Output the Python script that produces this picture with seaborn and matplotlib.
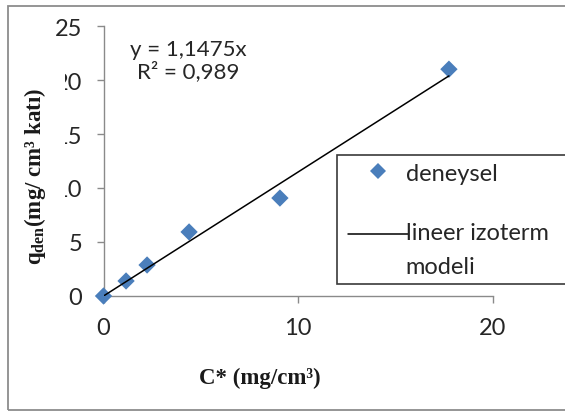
import numpy as np
import pandas as pd
import matplotlib
matplotlib.use("Agg")
import matplotlib.pyplot as plt
import seaborn as sns
from matplotlib.patches import Rectangle
from matplotlib.lines import Line2D
from matplotlib.legend_handler import HandlerLine2D

# ---- data ----
c_star = [0.0, 1.16, 2.24, 4.40, 9.07, 17.76]     # C* (mg/cm3)
q_den = [0.0, 1.39, 2.87, 5.93, 9.07, 21.0]       # q_den (mg/cm3 katı)
slope = 1.1475
r2 = "0,989"
x_ticks = [0, 10, 20]
y_ticks = [0, 5, 10, 15, 20, 25]
series_label = "deneysel"
model_label = "lineer izoterm\nmodeli"

sns.set_theme(style="white")
plt.rcParams["font.family"] = ["Lato", "DejaVu Sans"]
plt.rcParams["mathtext.fontset"] = "custom"
plt.rcParams["mathtext.rm"] = "Liberation Serif:bold"
plt.rcParams["mathtext.bf"] = "Liberation Serif:bold"
plt.rcParams["mathtext.it"] = "Liberation Serif:bold"

W, H = 565, 414
fig = plt.figure(figsize=(W / 100, H / 100), dpi=100)
fig.patch.set_facecolor("white")

x0, x1 = 103.5, 492.5
y0, y1 = 297, 27
ax = fig.add_axes([x0 / W, 1 - y0 / H, (x1 - x0) / W, (y0 - y1) / H])
ax.set_facecolor("white")

blue = "#4A7EBB"
df = pd.DataFrame({"C": c_star, "q": q_den})
sns.scatterplot(data=df, x="C", y="q", marker="D", s=78, color=blue,
                edgecolor="none", linewidth=0, ax=ax, zorder=3, legend=False,
                clip_on=False)

line_x = np.array([min(c_star), max(c_star)])
line_df = pd.DataFrame({"C": line_x, "q": slope * line_x})
sns.lineplot(data=line_df, x="C", y="q", color="black", linewidth=1.1,
             ax=ax, zorder=4, legend=False)

ax.set_xlim(0, 20)
ax.set_ylim(0, 25)
ax.set_xticks(x_ticks)
ax.set_yticks(y_ticks)
ax.set_xticklabels([str(v) for v in x_ticks])
ax.set_yticklabels([str(v) for v in y_ticks])

for s in ["top", "right"]:
    ax.spines[s].set_visible(False)
for s in ["left", "bottom"]:
    ax.spines[s].set_color("#8a8a8a")
    ax.spines[s].set_linewidth(1.0)

ax.tick_params(axis="both", which="both", direction="out", length=5,
               width=1.0, color="#8a8a8a", labelsize=17, labelcolor="#262626",
               left=True, bottom=True)
ax.tick_params(axis="x", pad=10)
ax.tick_params(axis="y", pad=10.5)

# axis labels
ax.set_xlabel("C* (mg/cm³)", fontfamily="Liberation Serif", fontweight="bold",
              fontsize=16.5, color="#1a1a1a")
ax.xaxis.set_label_coords((260 - x0) / (x1 - x0), (y0 - 378) / (y0 - y1))
ax.xaxis.label.set_va("center")

ax.set_ylabel(r"$\mathbf{q}_{\mathbf{den}}$(mg/ cm³ katı)", fontfamily="Liberation Serif",
              fontweight="bold", fontsize=16.5, color="#1a1a1a",
              bbox=dict(facecolor="white", edgecolor="none", pad=12.5))
ax.yaxis.set_label_coords((35 - x0) / (x1 - x0), (y0 - 177) / (y0 - y1))
ax.yaxis.label.set_va("center")

# equation text
fig.text(188 / W, 1 - 50 / H, f"y = {str(slope).replace('.', ',')}x", ha="center", va="center",
         fontsize=16, color="#262626")
fig.text(188 / W, 1 - 72 / H, f"R² = {r2}", ha="center", va="center",
         fontsize=16, color="#262626")


class ShiftedHandler(HandlerLine2D):
    """Line handle that starts a bit to the right and sits at the first text line."""
    def __init__(self, dx_left=0.0, dy=0.0, **kw):
        super().__init__(**kw)
        self.dx_left = dx_left
        self.dy = dy

    def create_artists(self, legend, orig_handle, xdescent, ydescent, width,
                       height, fontsize, trans):
        arts = super().create_artists(legend, orig_handle, xdescent, ydescent,
                                      width, height, fontsize, trans)
        for a in arts:
            xd = np.asarray(a.get_xdata(), dtype=float).copy()
            yd = np.asarray(a.get_ydata(), dtype=float).copy()
            if len(xd) == 2 and a.get_linestyle() not in ("None", "none", ""):
                xd[0] += self.dx_left
            else:
                xd = xd + self.dx_left / 2.0
            a.set_xdata(xd)
            a.set_ydata(yd + self.dy)
        return arts


# legend
h_marker = Line2D([], [], marker="D", linestyle="none", color=blue, markersize=8.2,
                  markeredgewidth=0)
h_line = Line2D([], [], color="black", linewidth=1.1)
leg = fig.legend([h_marker, h_line], [series_label, model_label], loc="upper left",
                 bbox_to_anchor=(337 / W, 1 - 156 / H, 300 / W, 0), mode="expand",
                 fontsize=17, frameon=True, fancybox=False, framealpha=1,
                 edgecolor="#3a3a3a", borderpad=0.32, handlelength=2.54,
                 handletextpad=0.05, labelspacing=1.62, borderaxespad=0,
                 handler_map={h_marker: ShiftedHandler(dx_left=5.0, dy=0),
                              h_line: ShiftedHandler(dx_left=5.0, dy=11.4)})
leg.get_frame().set_linewidth(1.2)
for t in leg.get_texts():
    t.set_color("#262626")
    t.set_linespacing(1.76)

# outer chart frame
fig.patches.append(Rectangle((8 / W, 1 - 411 / H), 0.99, (411 - 7) / H,
                             transform=fig.transFigure, fill=False,
                             edgecolor="#8c8c8c", linewidth=1.3, zorder=10))

fig.savefig("out.png", dpi=100)
